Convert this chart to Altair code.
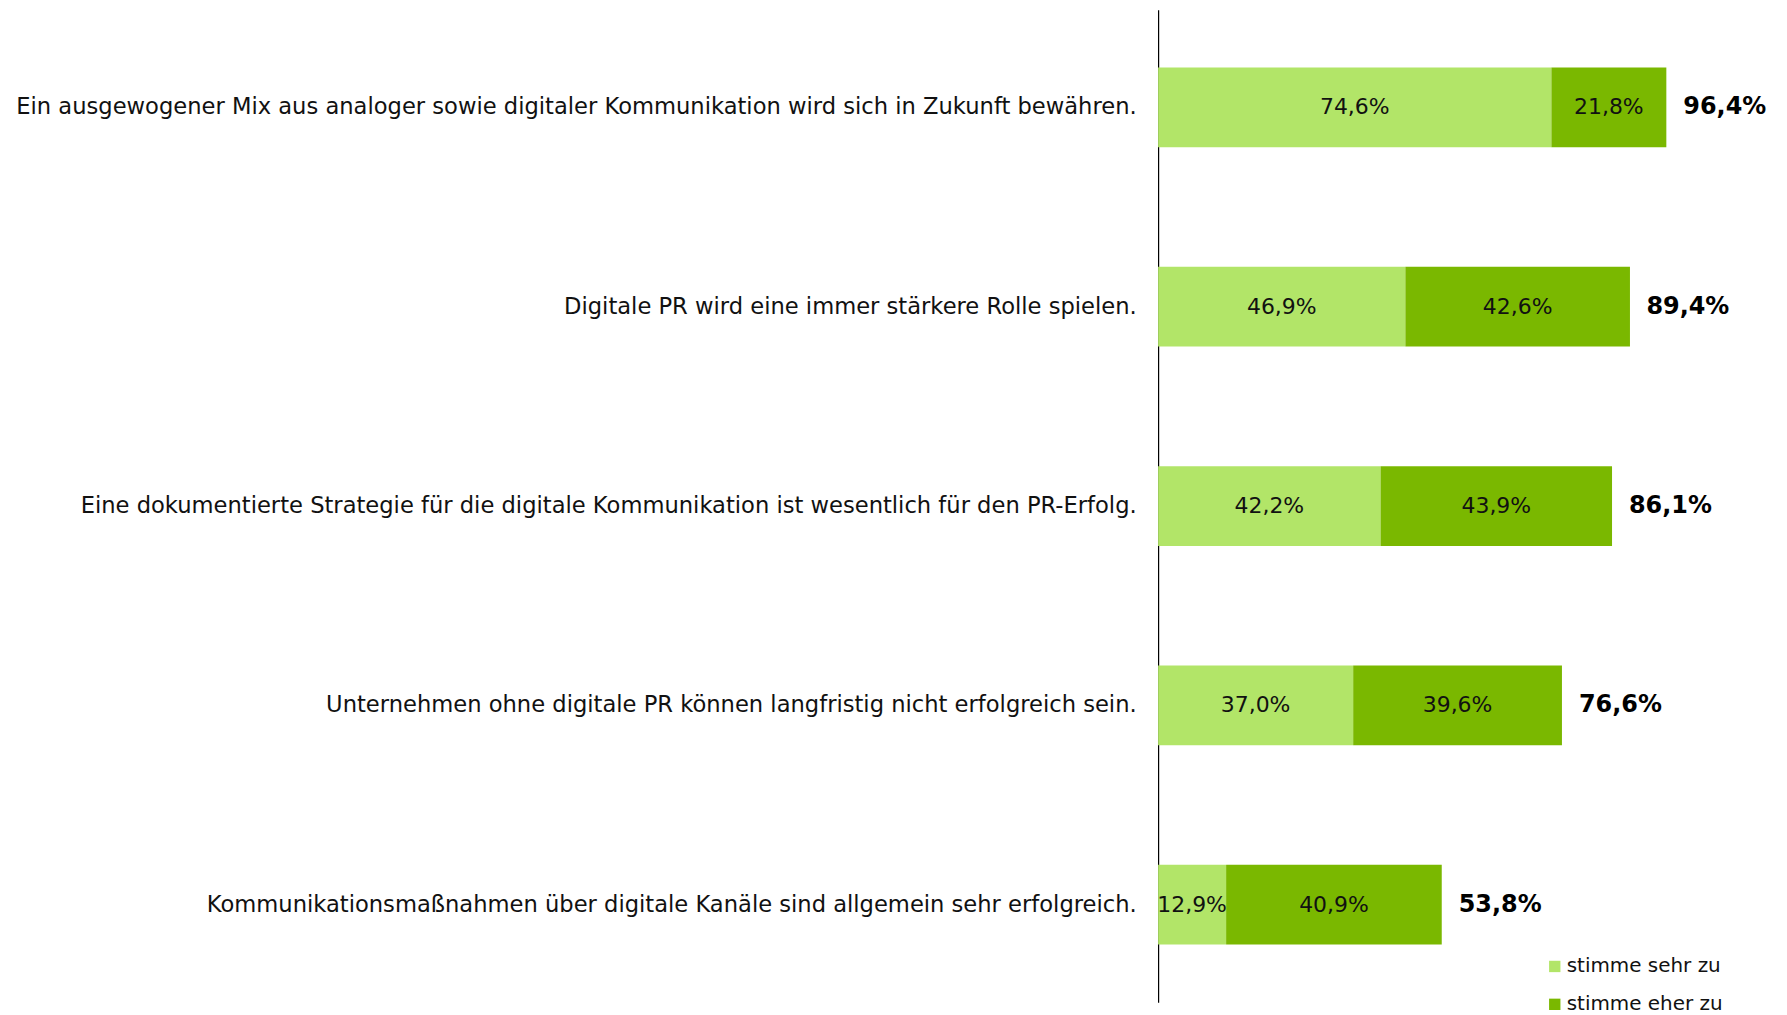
import altair as alt
import pandas as pd

categories = [
    "Ein ausgewogener Mix aus analoger sowie digitaler Kommunikation wird sich in Zukunft bewähren.",
    "Digitale PR wird eine immer stärkere Rolle spielen.",
    "Eine dokumentierte Strategie für die digitale Kommunikation ist wesentlich für den PR-Erfolg.",
    "Unternehmen ohne digitale PR können langfristig nicht erfolgreich sein.",
    "Kommunikationsmaßnahmen über digitale Kanäle sind allgemein sehr erfolgreich.",
]
sehr_zu = [74.6, 46.9, 42.2, 37.0, 12.9]
eher_zu = [21.8, 42.6, 43.9, 39.6, 40.9]
totals = [96.4, 89.4, 86.1, 76.6, 53.8]
series = ["stimme sehr zu", "stimme eher zu"]
colors = ["#b2e568", "#7ab800"]

def de(v):
    return f"{v:.1f}".replace(".", ",") + "%"

rows = []
for c, a, b in zip(categories, sehr_zu, eher_zu):
    rows.append({"cat": c, "series": series[0], "start": 0.0, "end": a, "mid": a / 2, "label": de(a), "ord": 0})
    rows.append({"cat": c, "series": series[1], "start": a, "end": a + b, "mid": a + b / 2, "label": de(b), "ord": 1})
df = pd.DataFrame(rows)
tot = pd.DataFrame({"cat": categories, "total": totals, "label": [de(t) for t in totals]})

FONT = "DejaVu Sans"
ysc = alt.Scale(domain=categories, paddingInner=0.6, paddingOuter=0.29)
xsc = alt.Scale(domain=[0, 100])

y_enc = alt.Y("cat:N", sort=categories, scale=ysc, title=None,
              axis=alt.Axis(ticks=False, domain=True, domainColor="#000000", domainWidth=1.2,
                            labelFontSize=22.7, labelFont=FONT, labelColor="#111111",
                            labelPadding=22, labelLimit=0, grid=False))

bars = alt.Chart(df).mark_bar().encode(
    x=alt.X("start:Q", scale=xsc, axis=None),
    x2="end:Q",
    y=y_enc,
    color=alt.Color("series:N", scale=alt.Scale(domain=series, range=colors),
                    legend=alt.Legend(title=None, orient="none", legendX=388, legendY=950,
                                      symbolType="square", symbolSize=130, symbolStrokeWidth=0,
                                      labelFontSize=20, labelFont=FONT, labelColor="#111111",
                                      rowPadding=18, labelOffset=2, padding=0)),
    order="ord:Q",
)

seg_text = alt.Chart(df).mark_text(fontSize=22, font=FONT, color="#111111", align="center",
                                   baseline="middle").encode(
    x=alt.X("mid:Q", scale=xsc), y=alt.Y("cat:N", sort=categories, scale=ysc), text="label:N")

tot_text = alt.Chart(tot).mark_text(fontSize=24, font=FONT, fontWeight="bold", color="#000000",
                                    align="left", baseline="middle", dx=17).encode(
    x=alt.X("total:Q", scale=xsc), y=alt.Y("cat:N", sort=categories, scale=ysc), text="label:N")

chart = alt.layer(bars, seg_text, tot_text).properties(
    width=529, height=996,
    autosize=alt.AutoSizeParams(type="none"),
    padding={"left": 1154, "top": 0, "right": 94, "bottom": 10},
).configure(font=FONT).configure_view(stroke=None, strokeWidth=0)

chart.save("out.html", embed_options={"renderer": "svg", "actions": False})
